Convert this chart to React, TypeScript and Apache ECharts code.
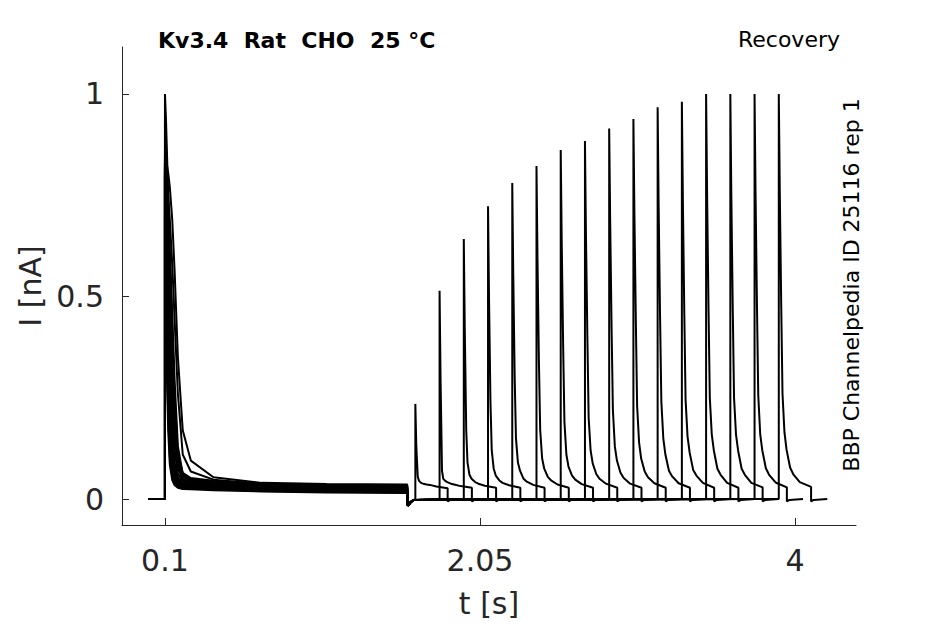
import { useEffect, useRef } from 'react';
import * as echarts from 'echarts';

// protocol timing (s)
const HOLD_START = 0;
const PULSE1_START = 0.1;
const PULSE1_END = 1.6;
const RECOVERY_START = [1.65, 1.8, 1.95, 2.1, 2.25, 2.4, 2.55, 2.7, 2.85, 3.0, 3.15, 3.3, 3.45, 3.6, 3.75, 3.9];
const SWEEP_AFTER = 0.1;

// first pulse: time after step (s) and current per sweep (nA)
const P1_T = [0, 0.006, 0.012, 0.02, 0.03, 0.045, 0.06, 0.08, 0.11, 0.16, 0.3, 0.6, 1.0, 1.5];
const P1_I = [
  [1.0, 0.94, 0.86, 0.75, 0.6, 0.42, 0.25, 0.11, 0.065, 0.052, 0.045, 0.038, 0.034, 0.032],
  [0.94, 0.88, 0.8, 0.68, 0.53, 0.34, 0.18, 0.085, 0.058, 0.049, 0.042, 0.036, 0.032, 0.03],
  [0.84, 0.835, 0.825, 0.805, 0.77, 0.69, 0.56, 0.35, 0.17, 0.095, 0.054, 0.04, 0.037, 0.036],
  [0.82, 0.81, 0.79, 0.75, 0.69, 0.58, 0.44, 0.26, 0.11, 0.068, 0.048, 0.037, 0.033, 0.031],
  [0.86, 0.83, 0.78, 0.71, 0.61, 0.46, 0.29, 0.13, 0.062, 0.047, 0.04, 0.034, 0.03, 0.028],
  [0.85, 0.81, 0.75, 0.67, 0.56, 0.38, 0.21, 0.095, 0.055, 0.045, 0.038, 0.032, 0.029, 0.026],
  [0.84, 0.79, 0.72, 0.62, 0.5, 0.31, 0.16, 0.075, 0.05, 0.042, 0.036, 0.031, 0.027, 0.025],
  [0.83, 0.76, 0.68, 0.57, 0.43, 0.25, 0.12, 0.062, 0.046, 0.04, 0.035, 0.03, 0.026, 0.024],
  [0.83, 0.73, 0.63, 0.51, 0.36, 0.19, 0.09, 0.054, 0.042, 0.038, 0.033, 0.028, 0.025, 0.022],
  [0.82, 0.7, 0.58, 0.45, 0.3, 0.15, 0.072, 0.048, 0.039, 0.036, 0.032, 0.027, 0.024, 0.021],
  [0.82, 0.67, 0.53, 0.39, 0.25, 0.12, 0.062, 0.044, 0.036, 0.034, 0.03, 0.026, 0.022, 0.02],
  [0.81, 0.63, 0.48, 0.34, 0.2, 0.095, 0.054, 0.04, 0.034, 0.032, 0.029, 0.025, 0.021, 0.019],
  [0.81, 0.6, 0.44, 0.29, 0.16, 0.078, 0.047, 0.037, 0.032, 0.03, 0.027, 0.023, 0.02, 0.018],
  [0.8, 0.56, 0.39, 0.25, 0.13, 0.065, 0.042, 0.034, 0.03, 0.028, 0.026, 0.022, 0.019, 0.017],
  [0.8, 0.52, 0.35, 0.21, 0.105, 0.055, 0.038, 0.031, 0.028, 0.026, 0.024, 0.02, 0.018, 0.016],
  [0.79, 0.48, 0.3, 0.17, 0.085, 0.047, 0.034, 0.028, 0.025, 0.024, 0.022, 0.019, 0.016, 0.015],
];

// tail current right after the first pulse
const DIP_T = [0, 0.005, 0.02, 0.04];
const DIP_I = [-0.012, -0.016, -0.008, -0.002];

// recovery pulse: time after step (s) and current per sweep (nA)
const R_T = [0, 0.006, 0.015, 0.023, 0.035, 0.048, 0.07, 0.09, 0.13, 0.2];
const R_I = [
  [0.235, 0.13, 0.055, 0.045, 0.04, 0.038, 0.036, 0.035, 0.031, 0.027],
  [0.514, 0.3, 0.07, 0.05, 0.045, 0.042, 0.038, 0.036, 0.032, 0.028],
  [0.642, 0.42, 0.17, 0.09, 0.06, 0.05, 0.042, 0.038, 0.033, 0.028],
  [0.723, 0.5, 0.24, 0.12, 0.075, 0.058, 0.046, 0.04, 0.034, 0.028],
  [0.78, 0.56, 0.3, 0.15, 0.09, 0.07, 0.05, 0.043, 0.035, 0.028],
  [0.822, 0.6, 0.34, 0.17, 0.1, 0.075, 0.055, 0.046, 0.036, 0.028],
  [0.862, 0.64, 0.38, 0.19, 0.11, 0.08, 0.058, 0.048, 0.037, 0.028],
  [0.884, 0.66, 0.4, 0.2, 0.12, 0.088, 0.062, 0.05, 0.038, 0.028],
  [0.915, 0.69, 0.42, 0.22, 0.13, 0.095, 0.065, 0.052, 0.038, 0.028],
  [0.938, 0.71, 0.44, 0.23, 0.14, 0.1, 0.068, 0.054, 0.039, 0.028],
  [0.967, 0.73, 0.45, 0.24, 0.15, 0.11, 0.07, 0.056, 0.039, 0.028],
  [0.981, 0.745, 0.46, 0.245, 0.155, 0.115, 0.072, 0.058, 0.04, 0.028],
  [1.0, 0.76, 0.47, 0.25, 0.16, 0.12, 0.075, 0.06, 0.04, 0.028],
  [1.0, 0.755, 0.47, 0.25, 0.16, 0.12, 0.075, 0.06, 0.04, 0.029],
  [1.0, 0.76, 0.475, 0.255, 0.16, 0.12, 0.076, 0.06, 0.041, 0.029],
  [1.0, 0.765, 0.48, 0.26, 0.165, 0.122, 0.078, 0.061, 0.042, 0.03],
];
const END_T = [0, 0.015];
const END_I = [-0.006, -0.002];

const X_TICKS = [0.1, 2.05, 4];
const Y_TICKS = [0, 0.5, 1];

const TEXT = '#262626';
const FONT = 'DejaVu Sans';

function buildSweep(k: number): [number, number][] {
  const pts: [number, number][] = [[HOLD_START, 0], [PULSE1_START, 0]];
  P1_T.forEach((dt, j) => pts.push([PULSE1_START + dt, P1_I[k][j]]));
  DIP_T.forEach((dt, j) => pts.push([PULSE1_END + dt, DIP_I[j]]));
  const t2 = RECOVERY_START[k];
  pts.push([t2, 0]);
  R_T.forEach((dt, j) => pts.push([t2 + dt, R_I[k][j]]));
  const t3 = t2 + R_T[R_T.length - 1];
  END_T.forEach((dt, j) => pts.push([t3 + dt, END_I[j]]));
  pts.push([t3 + SWEEP_AFTER, 0]);
  return pts;
}

export default function App() {
  const chartRef = useRef<HTMLDivElement>(null);

  useEffect(() => {
    if (!chartRef.current) return;
    const chart = echarts.init(chartRef.current, null, { renderer: 'svg' });

    const series = RECOVERY_START.map((_, k) => ({
      type: 'line' as const,
      data: buildSweep(k),
      showSymbol: false,
      symbol: 'none',
      silent: true,
      lineStyle: { color: '#000', width: 2 },
    }));

    chart.setOption({
      animation: false,
      backgroundColor: '#fff',
      grid: { left: 122, top: 47, width: 734, height: 478 },
      xAxis: {
        type: 'value',
        min: -0.166,
        max: 4.378,
        splitLine: { show: false },
        axisLine: { onZero: false, lineStyle: { color: TEXT, width: 1 } },
        axisTick: { inside: true, length: 7, customValues: X_TICKS, lineStyle: { color: TEXT } },
        axisLabel: {
          customValues: X_TICKS,
          color: TEXT,
          fontSize: 30,
          fontFamily: FONT,
          margin: 20,
        },
        name: 't [s]',
        nameLocation: 'middle',
        nameGap: 63,
        nameTextStyle: { color: TEXT, fontSize: 30, fontFamily: FONT },
      },
      yAxis: {
        type: 'value',
        min: -0.064,
        max: 1.116,
        splitLine: { show: false },
        axisLine: { show: true, onZero: false, lineStyle: { color: TEXT, width: 1 } },
        axisTick: { show: true, inside: true, length: 7, customValues: Y_TICKS, lineStyle: { color: TEXT } },
        axisLabel: {
          customValues: Y_TICKS,
          color: TEXT,
          fontSize: 30,
          fontFamily: FONT,
          margin: 18,
        },
        name: 'I [nA]',
        nameLocation: 'middle',
        nameGap: 74,
        nameTextStyle: { color: TEXT, fontSize: 30, fontFamily: FONT },
      },
      graphic: [
        {
          type: 'text',
          x: 158,
          y: 40,
          style: {
            text: 'Kv3.4  Rat  CHO  25 °C',
            fill: '#000',
            fontSize: 22,
            fontWeight: 'bold',
            fontFamily: FONT,
            align: 'left',
            verticalAlign: 'middle',
          },
        },
        {
          type: 'text',
          x: 840,
          y: 39,
          style: {
            text: 'Recovery',
            fill: '#000',
            fontSize: 22,
            fontFamily: FONT,
            align: 'right',
            verticalAlign: 'middle',
          },
        },
        {
          type: 'text',
          x: 851,
          y: 285,
          rotation: Math.PI / 2,
          style: {
            text: 'BBP Channelpedia ID 25116 rep 1',
            fill: '#000',
            fontSize: 22,
            fontFamily: FONT,
            align: 'center',
            verticalAlign: 'middle',
          },
        },
      ],
      series,
    });

    return () => chart.dispose();
  }, []);

  return (
    <div
      ref={chartRef}
      style={{ position: 'fixed', left: 0, top: 0, width: '945px', height: '624px' }}
    />
  );
}
